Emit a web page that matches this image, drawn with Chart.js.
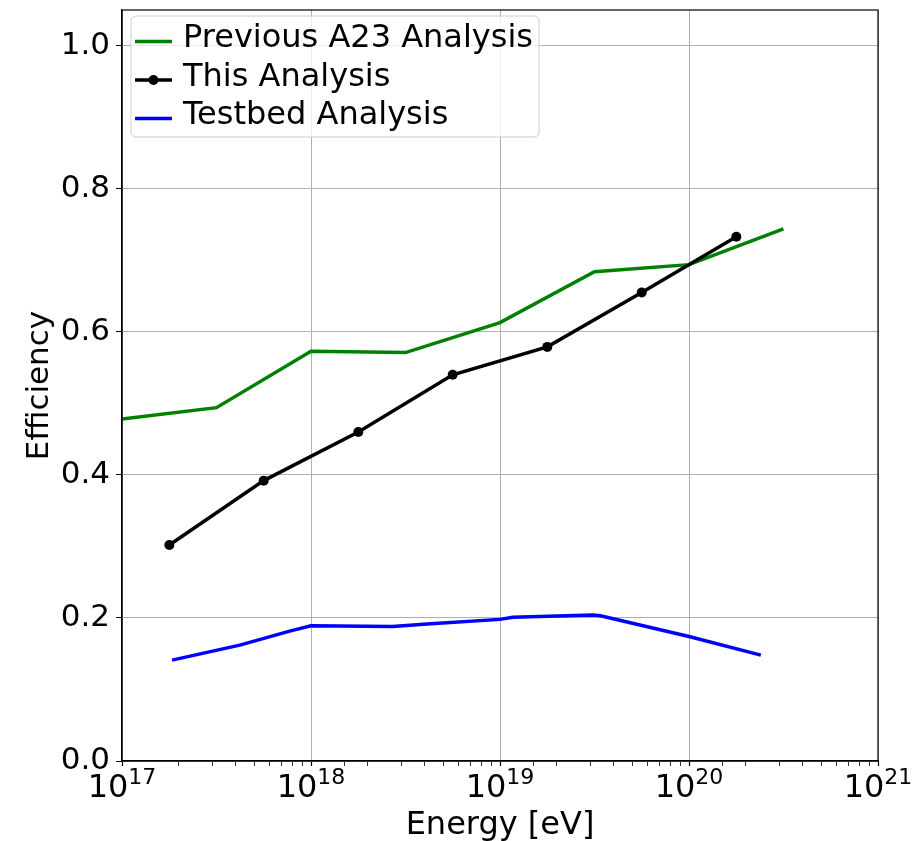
<!DOCTYPE html>
<html>
<head>
<meta charset="utf-8">
<script src="https://cdn.jsdelivr.net/npm/chart.js@4/dist/chart.umd.min.js"></script>
<style>
    html, body { margin: 0; padding: 0; background: #fff; }
    #wrap { position: relative; width: 922px; height: 841px; }
</style>
</head>
<body>
<div id="wrap"><canvas id="effChart"></canvas></div>
<script>
// data (energy in eV, efficiency 0..1)
const prevEnergy = [1e17, 3.16e17, 1e18, 3.16e18, 1e19, 3.16e19, 1e20, 3.16e20];
const prevEff    = [0.478, 0.494, 0.573, 0.571, 0.613, 0.684, 0.694, 0.744];

const thisEnergy = [1.78e17, 5.62e17, 1.78e18, 5.62e18, 1.78e19, 5.62e19, 1.78e20];
const thisEff    = [0.302, 0.392, 0.460, 0.540, 0.579, 0.655, 0.733];

const testEnergy = [1.84e17, 4.2e17, 7.8e17, 1e18, 2.7e18, 4.3e18, 1e19, 1.17e19, 3.1e19, 3.4e19, 1e20, 2.4e20];
const testEff    = [0.141, 0.162, 0.182, 0.189, 0.188, 0.192, 0.198, 0.201, 0.204, 0.203, 0.174, 0.148];

const seriesNames = ['Previous A23 Analysis', 'This Analysis', 'Testbed Analysis'];
const seriesColors = ['#008000', '#000000', '#0000ff'];
const xDecades = [17, 18, 19, 20, 21];
const yTicks = [0.0, 0.2, 0.4, 0.6, 0.8, 1.0];
const xTitle = 'Energy [eV]';

const FONT = "'DejaVu Sans', sans-serif";

function toPoints(xs, ys) {
    return xs.map((x, i) => ({ x: x, y: ys[i] }));
}

function isDecade(v) {
    let lg = Math.log10(v);
    return Math.abs(lg - Math.round(lg)) < 1e-6;
}

// frame, 10^n tick labels, x title and the boxed legend
const extras = {
    id: 'extras',
    afterDraw(chart) {
        const ctx = chart.ctx;
        const area = chart.chartArea;
        const xs = chart.scales.x;

        ctx.save();
        ctx.strokeStyle = '#000';
        ctx.lineWidth = 1.2;
        ctx.strokeRect(area.left, area.top, area.right - area.left, area.bottom - area.top);

        // x tick labels as 10^n
        ctx.fillStyle = '#000';
        ctx.textBaseline = 'alphabetic';
        ctx.textAlign = 'left';
        xDecades.forEach(e => {
            const px = xs.getPixelForValue(Math.pow(10, e));
            ctx.font = '32px ' + FONT;
            const wBase = ctx.measureText('10').width;
            ctx.font = '22px ' + FONT;
            const wExp = ctx.measureText(String(e)).width;
            const start = px - (wBase + wExp) / 2;
            ctx.font = '32px ' + FONT;
            ctx.fillText('10', start, 797);
            ctx.font = '22px ' + FONT;
            ctx.fillText(String(e), start + wBase, 784);
        });

        // x axis title
        ctx.font = '32px ' + FONT;
        ctx.textAlign = 'center';
        ctx.fillText(xTitle, (area.left + area.right) / 2, 834);
        ctx.textAlign = 'left';

        // legend box
        const bx = area.left + 9, by = area.top + 6, bw = 408, bh = 121;
        ctx.beginPath();
        ctx.roundRect(bx, by, bw, bh, 5);
        ctx.fillStyle = 'rgba(255,255,255,0.8)';
        ctx.fill();
        ctx.strokeStyle = '#cccccc';
        ctx.lineWidth = 1;
        ctx.stroke();

        ctx.font = '32px ' + FONT;
        seriesNames.forEach((name, i) => {
            const rowY = by + 25.5 + i * 38.5;
            ctx.strokeStyle = seriesColors[i];
            ctx.lineWidth = 3.5;
            ctx.beginPath();
            ctx.moveTo(bx + 4, rowY);
            ctx.lineTo(bx + 41, rowY);
            ctx.stroke();
            if (i === 1) {
                ctx.fillStyle = '#000';
                ctx.beginPath();
                ctx.arc(bx + 22.5, rowY, 5, 0, Math.PI * 2);
                ctx.fill();
            }
            ctx.fillStyle = '#000';
            ctx.fillText(name, bx + 52, rowY + 5.5);
        });
        ctx.restore();
    }
};

const config = {
    type: 'line',
    data: {
        datasets: [{
            label: seriesNames[0],
            data: toPoints(prevEnergy, prevEff),
            borderColor: seriesColors[0],
            borderWidth: 3.5,
            pointRadius: 0,
            order: 2
        }, {
            label: seriesNames[1],
            data: toPoints(thisEnergy, thisEff),
            borderColor: seriesColors[1],
            backgroundColor: seriesColors[1],
            borderWidth: 3.5,
            pointRadius: 5,
            pointBorderWidth: 0,
            pointBackgroundColor: seriesColors[1],
            order: 1
        }, {
            label: seriesNames[2],
            data: toPoints(testEnergy, testEff),
            borderColor: seriesColors[2],
            borderWidth: 3.5,
            pointRadius: 0,
            order: 0
        }]
    },
    options: {
        responsive: true,
        maintainAspectRatio: false,
        animation: false,
        layout: { padding: { left: 0, right: 44, top: 10, bottom: 0 } },
        plugins: {
            legend: { display: false },
            tooltip: { enabled: false }
        },
        scales: {
            x: {
                type: 'logarithmic',
                min: 1e17,
                max: 1e21,
                afterFit: s => {
                    s.height = 80;
                    s.paddingLeft = 0;
                    s.paddingRight = 0;
                },
                border: { display: true, color: '#000', width: 1.2 },
                grid: {
                    color: c => (c.tick && isDecade(c.tick.value)) ? '#b0b0b0' : 'rgba(0,0,0,0)',
                    lineWidth: 1,
                    tickColor: '#000',
                    tickWidth: c => (c.tick && isDecade(c.tick.value)) ? 1.2 : 0.8,
                    tickLength: 5
                },
                ticks: {
                    autoSkip: false,
                    maxRotation: 0,
                    callback: () => ''
                }
            },
            y: {
                min: 0,
                max: 1.05,
                afterFit: s => {
                    s.width = 122;
                    s.paddingTop = 0;
                    s.paddingBottom = 0;
                },
                afterBuildTicks: s => { s.ticks = yTicks.map(v => ({ value: v })); },
                border: { display: true, color: '#000', width: 1.2 },
                grid: {
                    color: '#b0b0b0',
                    lineWidth: 1,
                    tickColor: '#000',
                    tickLength: 6
                },
                ticks: {
                    padding: 6,
                    color: '#000',
                    font: { family: FONT, size: 31 },
                    callback: v => Number(v).toFixed(1)
                },
                title: {
                    display: true,
                    text: 'Efficiency',
                    color: '#000',
                    font: { family: FONT, size: 31 },
                    padding: { top: 21, bottom: 0 }
                }
            }
        }
    },
    plugins: [extras]
};

const effChart = new Chart(document.getElementById('effChart'), config);
</script>
</body>
</html>
